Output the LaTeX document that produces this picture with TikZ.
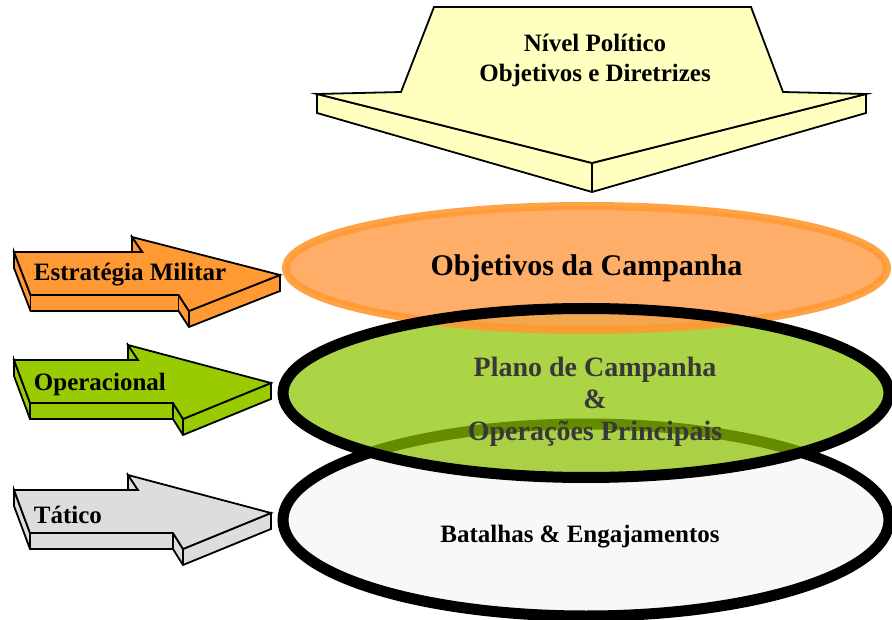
\documentclass[tikz,border=0pt]{standalone}
\usepackage{fontspec}
\setmainfont{Liberation Serif}
\usetikzlibrary{shapes.geometric,positioning}

\definecolor{amarelo}{RGB}{255,255,192}
\definecolor{laranja}{RGB}{255,153,51}
\definecolor{laranjaclaro}{RGB}{255,160,80}
\definecolor{verde}{RGB}{153,204,0}
\definecolor{verdeclaro}{RGB}{140,195,0}
\definecolor{cinza}{RGB}{221,221,221}
\definecolor{branco}{RGB}{248,248,248}

\begin{document}
\begin{tikzpicture}[x=1pt,y=-1pt,line width=1.8pt,
  txt/.style={font=\bfseries\fontsize{25}{30}\selectfont,inner sep=0pt},
  nivel/.style={ellipse,inner sep=0pt,minimum width=606pt},
  sidearrow/.pic={
    \path[pic actions] (0,0) -- (0,16) -- (16,59) -- (159,59) -- (169,75)
      -- (257,39) -- (257,23) -- (169,59) -- (159,43) -- (16,43) -- cycle;
    \path[pic actions] (114,-15) -- (114,0) -- (124,0) -- cycle;
    \path[pic actions] (0,0) -- (124,0) -- (114,-15) -- (257,23) -- (169,59)
      -- (159,43) -- (16,43) -- cycle;
    \draw (16,43) -- (16,59) (159,43) -- (159,59) (169,59) -- (169,75);
  }]
\useasboundingbox (0,0) rectangle (892,620);
\clip (0,0) rectangle (892,620);

% seta do nivel politico
\path[fill=amarelo,draw] (317,94) -- (317,113) -- (592,192) -- (866,113)
  -- (866,94) -- (592,163) -- cycle;
\path[fill=amarelo,draw] (434,7) -- (751,7) -- (783,92) -- (866,94)
  -- (592,163) -- (317,94) -- (401,92) -- cycle;
\draw (592,163) -- (592,192);
\node[txt,align=center] (politico) at (595,60) {Nível Político\\Objetivos e Diretrizes};

% niveis
\node[nivel,fill=branco,draw,line width=11pt,minimum height=192pt] (batalhas) at (586,520) {};
\node[nivel,fill=verdeclaro,fill opacity=.72,minimum height=169pt] (plano) at (586,393) {};
\node[nivel,fill=laranjaclaro,fill opacity=.85,draw=laranja,draw opacity=.9,
  line width=8pt,minimum width=601pt,minimum height=124pt,text opacity=1,
  font=\bfseries\fontsize{30}{36}\selectfont] (campanha) at (586.5,268) {Objetivos da Campanha};
\draw[line width=11pt] (plano.center) ellipse [x radius=303,y radius=84.5];

\node[txt,font=\bfseries\fontsize{28}{32}\selectfont,text=black!78,align=center]
  (planotxt) at ([shift={(9,9)}]plano.center) {Plano de Campanha\\\&\\Operações Principais};
\node[txt] (battxt) at ([shift={(-6,17)}]batalhas.center) {Batalhas \& Engajamentos};

% setas laterais
\pic[fill=laranja,draw,xscale=1.035] (estrat) at (14,252) {sidearrow};
\pic[fill=verde,draw] (operac) at (14,360) {sidearrow};
\pic[fill=cinza,draw] (tatic) at (14,490) {sidearrow};
\node[txt,anchor=base west] (estrattxt) at (33,281) {Estratégia Militar};
\node[txt,anchor=base west] (operactxt) at (33,391) {Operacional};
\node[txt,anchor=base west] (tatictxt) at (33,523) {Tático};

\end{tikzpicture}
\end{document}
